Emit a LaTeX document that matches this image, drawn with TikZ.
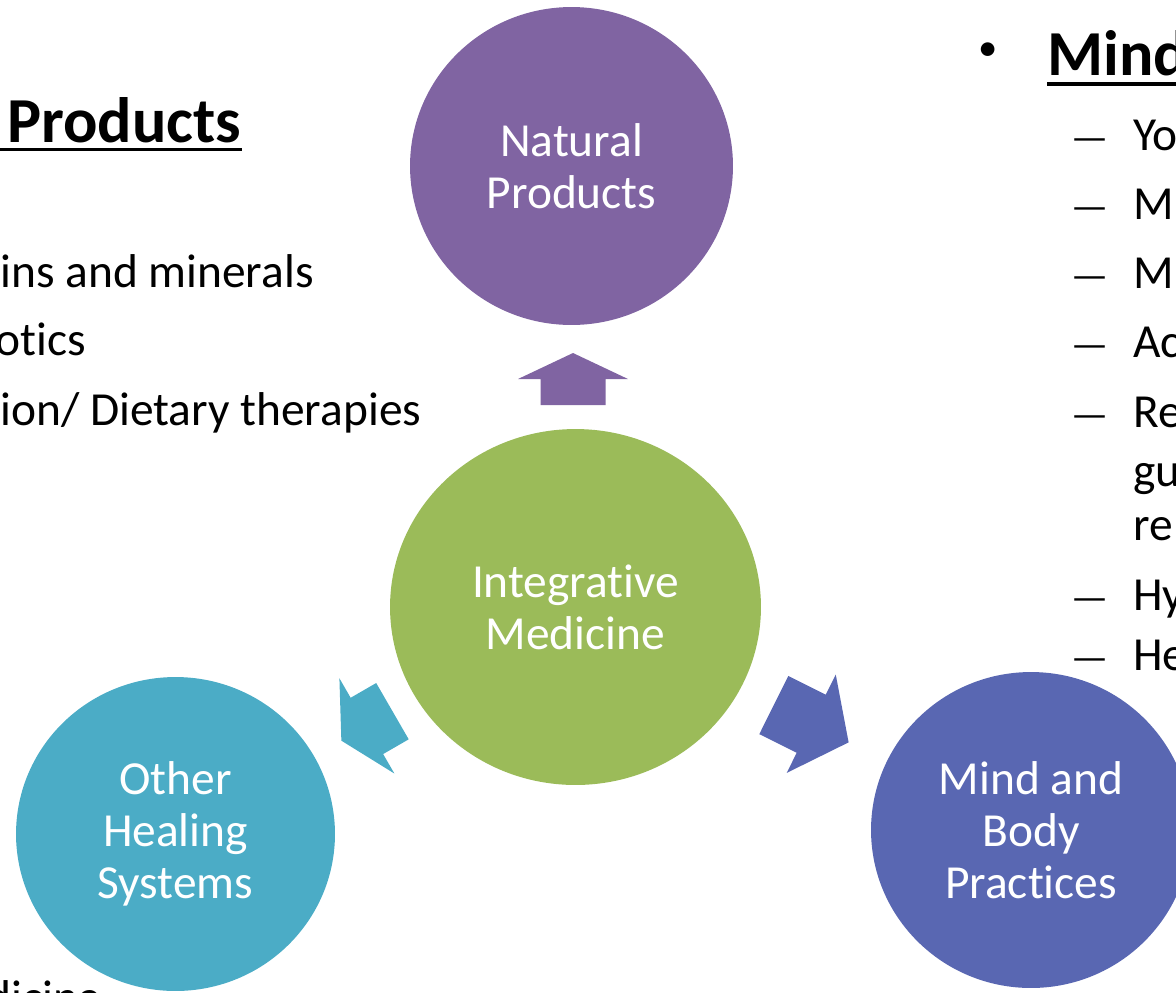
\documentclass[tikz,border=0pt]{standalone}
\usepackage{fontspec}
\setmainfont{Carlito}[Ligatures=NoCommon]
\usetikzlibrary{shapes.geometric, calc}

\definecolor{npurple}{HTML}{8064A2}
\definecolor{imgreen}{HTML}{9BBB59}
\definecolor{ohteal}{HTML}{4BACC6}
\definecolor{mbblue}{HTML}{5967B2}

\newcommand{\labelfont}{\fontsize{27}{29.6}\selectfont}
\newcommand{\bodyfont}{\fontsize{27}{32}\selectfont}
\newcommand{\headfont}{\bfseries\fontsize{36.5}{42}\selectfont}

% block arrow: centre x, centre y, angle, length, colour
\newcommand{\flowarrow}[5]{%
	\fill[#5, shift={(#1,#2)}, rotate=#3]
		(-#4/2,-32.5) -- (0,-32.5) -- (0,-55) -- (#4/2,0)
		-- (0,55) -- (0,32.5) -- (-#4/2,32.5) -- cycle;}

\tikzset{%
	topic/.style={ellipse, inner sep=0mm, text=white, align=center, font=\labelfont},
	item/.style={anchor=base west, inner sep=0mm, font=\bodyfont},
	head/.style={anchor=base west, inner sep=0mm, font=\headfont},
	ul/.style={line width=0.066cm}
}

\begin{document}
\begin{tikzpicture}[x=0.02cm, y=-0.02cm]
	\useasboundingbox (0,0) rectangle (1176,992);
	\clip (0,0) rectangle (1176,992);

	% circles
	\node[topic, fill=npurple, minimum width=6.46cm, minimum height=6.36cm] (np) at (571.5,166) {Natural\\Products};
	\node[topic, fill=imgreen, minimum width=7.42cm, minimum height=7.12cm] (im) at (575.5,607) {Integrative\\Medicine};
	\node[topic, fill=ohteal, minimum width=6.38cm, minimum height=6.28cm] (ohs) at (175.5,834) {Other\\Healing\\Systems};
	\node[topic, fill=mbblue, minimum width=6.4cm, minimum height=6.32cm] (mbp) at (1031,830) {Mind and\\Body\\Practices};

	% arrows out of the centre
	\flowarrow{573}{379}{90}{52}{npurple}
	\flowarrow{366.9}{725.9}{210}{59}{ohteal}
	\flowarrow{811.2}{723.7}{-26.5}{83.6}{mbblue}

	% left column
	\node[head] (nphead) at (7,142) {Products};
	\draw[ul] ([yshift=-0.146cm]nphead.base east) -- ([yshift=-0.146cm]nphead.base west) -- ++(-12,0);
	\node[item] (vit) at (0,287) {ins and minerals};
	\node[item] (pro) at (-5,355) {otics};
	\node[item] (nut) at (0,425) {ion/ Dietary therapies};
	\node[item] (med) at (-14,1013) {dicine};

	% right column
	\node[inner sep=0mm, font=\fontsize{22}{22}\selectfont] (bul) at (988,52) {•};
	\node[head] (mbhead) at (1047,75) {Mind};
	\draw[ul] ([yshift=-0.18cm]mbhead.base west) -- ++(140,0);
	\foreach \t/\b [count=\i] in {Yo/150, M/219, M/288, Ac/357, Re/427, Hy/610, He/670} {
		\node[item] (dash\i) at (1068,\b) {\scalebox{1.8}[0.8]{–}};
		\node[item] (mb\i) at (1133,\b) {\t};
	}
	\node[item] (gu) at (1133,486) {gu};
	\node[item] (re) at (1133,540) {re};
\end{tikzpicture}
\end{document}
